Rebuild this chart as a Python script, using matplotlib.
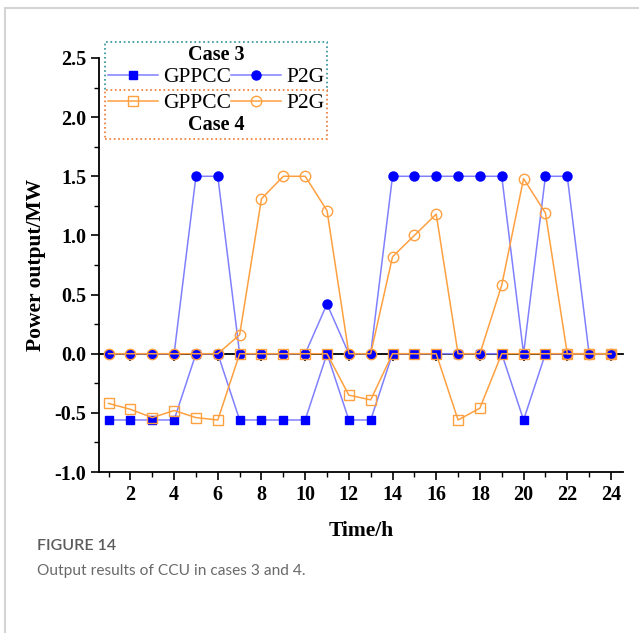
import matplotlib
matplotlib.use('Agg')
import matplotlib.pyplot as plt
from matplotlib.lines import Line2D
import numpy as np

plt.rcParams['font.family'] = ['Liberation Serif', 'DejaVu Serif']

# hourly CCU output, cases 3 and 4
hours = np.arange(1, 25)
gppcc_case3 = [-0.56, -0.56, -0.56, -0.56, 0, 0, -0.56, -0.56, -0.56, -0.56, 0, -0.56,
               -0.56, 0, 0, 0, 0, 0, 0, -0.56, 0, 0, 0, 0]
p2g_case3 = [0, 0, 0, 0, 1.5, 1.5, 0, 0, 0, 0, 0.42, 0,
             0, 1.5, 1.5, 1.5, 1.5, 1.5, 1.5, 0, 1.5, 1.5, 0, 0]
gppcc_case4 = [-0.42, -0.47, -0.54, -0.48, -0.54, -0.56, 0, 0, 0, 0, 0, -0.35,
               -0.39, 0, 0, 0, -0.56, -0.46, 0, 0, 0, 0, 0, 0]
p2g_case4 = [0, 0, 0, 0, 0, 0, 0.16, 1.31, 1.5, 1.5, 1.21, 0,
             0, 0.82, 1.0, 1.18, 0, 0, 0.58, 1.48, 1.19, 0, 0, 0]

blue = '#0000ff'
blue_line = '#8080ff'
orange = '#ffa040'

fig = plt.figure(figsize=(6.39, 6.33), dpi=100)
ax = fig.add_axes([0.1549, 0.2543, 0.8200, 0.6541])

l1, = ax.plot(hours, gppcc_case3, color=blue_line, lw=1.1, marker='s', ms=6,
              mfc=blue, mec=blue, label='GPPCC')
l2, = ax.plot(hours, p2g_case3, color=blue_line, lw=1.1, marker='o', ms=6.5,
              mfc=blue, mec=blue, label='P2G')
l3, = ax.plot(hours, gppcc_case4, color=orange, lw=1.1, marker='s', ms=7,
              mfc='none', mec=orange, mew=1, label='GPPCC')
l4, = ax.plot(hours, p2g_case4, color=orange, lw=1.1, marker='o', ms=7.5,
              mfc='none', mec=orange, mew=1, label='P2G')

ax.set_xlim(0.56, 24.55)
ax.set_ylim(-1.0, 2.5)
ax.set_xticks(np.arange(2, 25, 2))
ax.set_xticks(np.arange(1, 25, 2), minor=True)
ax.set_yticks(np.arange(-1.0, 2.51, 0.5))
ax.set_yticks(np.arange(-0.75, 2.5, 0.5), minor=True)
ax.set_yticklabels([f'{v:.1f}' for v in np.arange(-1.0, 2.51, 0.5)])
for s in ['top', 'right']:
    ax.spines[s].set_visible(False)
for s in ['left', 'bottom']:
    ax.spines[s].set_linewidth(1.3)
ax.tick_params(which='major', direction='out', length=6, width=1.2, labelsize=14.5, pad=3)
ax.tick_params(which='minor', direction='out', length=3.5, width=1.0)
for t in ax.get_xticklabels() + ax.get_yticklabels():
    t.set_fontweight('bold')

# zero axis with its own ticks
zero = ax.secondary_xaxis((0 + 1.0) / 3.5)
zero.set_xticks(np.arange(2, 25, 2))
zero.set_xticklabels([])
zero.spines['bottom'].set_linewidth(1.3)
zero.tick_params(direction='out', length=5, width=1.2)

ax.set_xlabel('Time/h', fontsize=15.5, fontweight='bold', labelpad=12)
ax.set_ylabel('Power output/MW', fontsize=15.5, fontweight='bold', labelpad=6)

leg_kw = dict(ncol=2, fontsize=15.5, handlelength=2.3, handletextpad=0.25,
              columnspacing=0.0, borderpad=0.15, labelspacing=0.1, borderaxespad=0,
              fancybox=False, framealpha=1, loc='upper left',
              bbox_transform=fig.transFigure,
              title_fontproperties={'weight': 'bold', 'size': 14.5})
leg1 = fig.legend(handles=[l1, l2], title='Case 3', bbox_to_anchor=(0.1643, 0.9336), **leg_kw)
leg1.get_frame().set_linestyle(':')
leg1.get_frame().set_edgecolor('#2a8f96')
leg1.get_frame().set_linewidth(1.2)
leg2 = fig.legend(handles=[l3, l4], title='Case 4', bbox_to_anchor=(0.1643, 0.8578), **leg_kw)
leg2._legend_box.get_children().reverse()
leg2.get_frame().set_linestyle(':')
leg2.get_frame().set_edgecolor('#f07830')
leg2.get_frame().set_linewidth(1.2)

# page frame
fig.add_artist(Line2D([5 / 639, 5 / 639], [0, 1 - 8 / 633], color='#d4d4d4', lw=1.5))
fig.add_artist(Line2D([5 / 639, 1], [1 - 8 / 633, 1 - 8 / 633], color='#d4d4d4', lw=1.5))

fig.text(37 / 639, 1 - 546 / 633, 'FIGURE 14', fontsize=11.5, family='Lato',
         fontweight='semibold', color='#5b5b5b', va='center')
fig.text(37 / 639, 1 - 571 / 633, 'Output results of CCU in cases 3 and 4.',
         fontsize=11.2, family='Lato', color='#6a6a6a', va='center')

fig.savefig('out.png', dpi=100)
